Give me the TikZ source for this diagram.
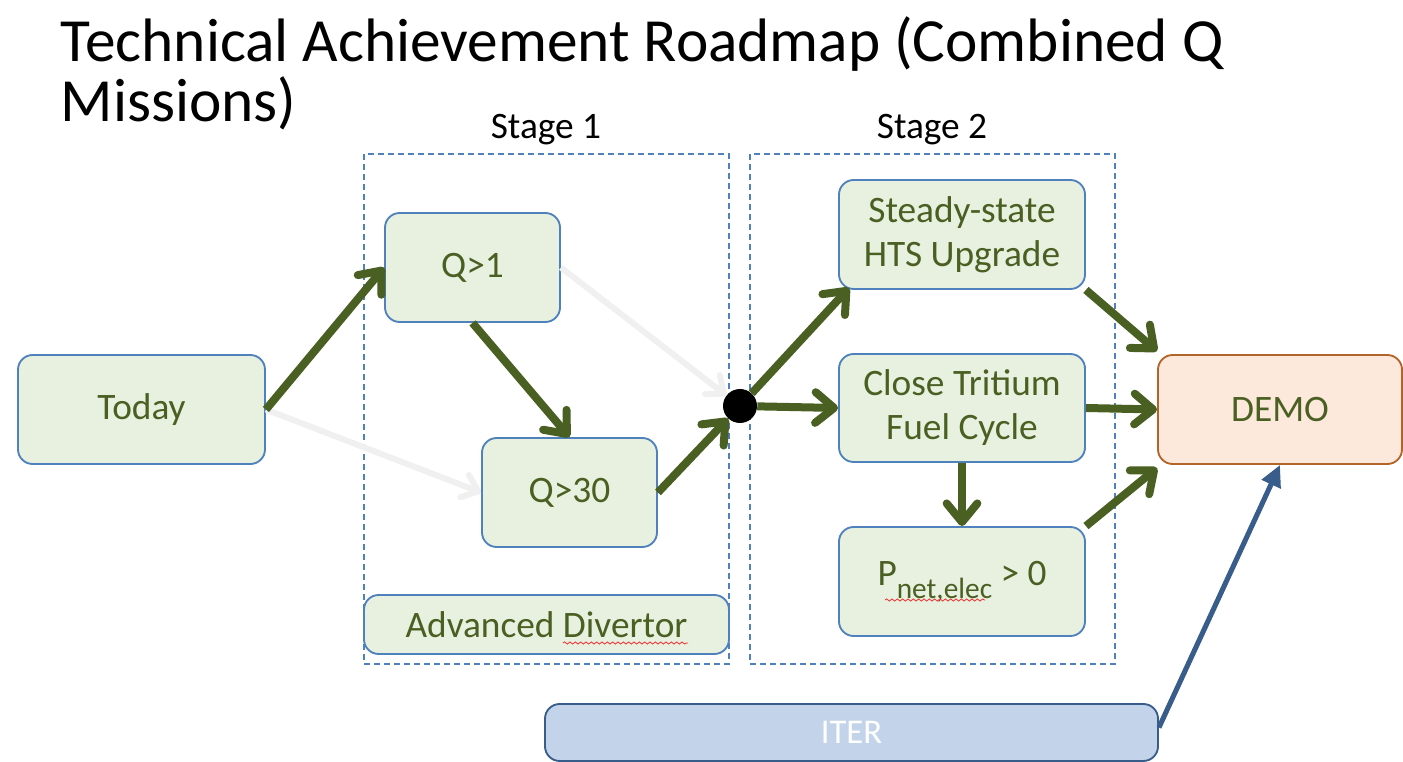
\documentclass[tikz,border=0pt]{standalone}
\usepackage{fontspec}
\setmainfont{Carlito}
\usetikzlibrary{arrows.meta,fit,decorations.pathmorphing}
\definecolor{boxfill}{HTML}{E8F1DF}
\definecolor{boxline}{HTML}{4F81BD}
\definecolor{leaf}{HTML}{4A5F22}
\definecolor{demofill}{HTML}{FDE9DC}
\definecolor{demoline}{HTML}{B2652A}
\definecolor{iterfill}{HTML}{C3D4EA}
\definecolor{iterline}{HTML}{385D8A}
\definecolor{ghost}{HTML}{F0F0F0}
\definecolor{spell}{HTML}{F03030}
\begin{document}
\begin{tikzpicture}[x=0.75pt,y=-0.75pt,
  span/.style args={#1x#2}{minimum width=#1*0.75pt, minimum height=#2*0.75pt},
  gbox/.style={draw=boxline, fill=boxfill, line width=1.4pt, rounded corners=11pt,
    inner sep=0pt, text=leaf, font=\fontsize{28}{33}\selectfont, align=center},
  demobox/.style={gbox, draw=demoline, fill=demofill},
  iterbox/.style={gbox, draw=iterline, fill=iterfill, text=white, font=\fontsize{26}{30}\selectfont},
  stagebox/.style={draw=boxline, line width=1.1pt, dash pattern=on 4.5pt off 3pt, inner sep=0pt},
  stagelabel/.style={font=\fontsize{28}{33}\selectfont, text=black},
  flow/.style={draw=leaf, line width=6pt,
    -{Straight Barb[length=14pt,width=23pt,line cap=round,line join=round]}},
  faint/.style={draw=ghost, line width=4.5pt,
    -{Straight Barb[length=11pt,width=18pt,line cap=round,line join=round]}},
  feed/.style={draw=iterline, line width=3.8pt, -{Triangle[length=16pt,width=15pt]}},
  squiggle/.style={draw=spell, line width=0.6pt, decorate,
    decoration={snake, amplitude=0.8pt, segment length=4pt}}
]
\useasboundingbox (0,0) rectangle (1403,762);

% title
\node[anchor=base west, font=\fontsize{46}{52}\selectfont] (title1) at (56,62)
  {Technical Achievement Roadmap (Combined Q};
\node[anchor=base west, font=\fontsize{46}{52}\selectfont] (title2) at (56,122)
  {Missions)};

% stage frames
\node[stagebox, fit={(364,154) (729,664)}] (stage1) {};
\node[stagebox, fit={(750,154) (1115,664)}] (stage2) {};
\node[stagelabel] (stage1lbl) at (546,130) {Stage 1};
\node[stagelabel] (stage2lbl) at (932,130) {Stage 2};

% milestones
\node[gbox, span=247x109] (today) at (141.5,409.5) {Today};
\node[gbox, span=175x109] (q1) at (472.5,267.5) {Q>1};
\node[gbox, span=175x109] (q30) at (569.5,492.5) {Q>30};
\node[gbox, span=365x59] (div) at (546.5,624.5) {Advanced Divertor};
\node[gbox, span=246x109] (hts) at (962,234.5) {Steady-state\\HTS Upgrade};
\node[gbox, span=246x108] (tri) at (962,408) {Close Tritium\\Fuel Cycle};
\node[gbox, span=246x109] (pnet) at (962,581.5)
  {P\raisebox{-0.34em}{\fontsize{22}{22}\selectfont net,elec} > 0};
\node[demobox, span=244x109] (demo) at (1280,409.5) {DEMO};
\node[iterbox, span=613x57] (iter) at (851.5,732.5) {ITER};

% junction
\node[circle, fill=black, inner sep=0pt, minimum size=25.5pt] (dot) at (740,406) {};

% spelling marks under the flagged words
\draw[squiggle] (563,643) -- (688,643);
\draw[squiggle] (885,600) -- (985,600);

% faint alternative paths
\draw[faint] (today.east) -- (q30.west);
\draw[faint] (q1.east) -- (dot);

% main paths
\draw[flow] (today.east) -- (q1.west);
\draw[flow] (q1.south) -- (q30.north);
\draw[flow] (q30.east) -- (dot);
\draw[flow] (dot) -- ([shift={(11,-2)}]hts.south west);
\draw[flow] (dot) -- (tri.west);
\draw[flow] (hts.south east) -- ([shift={(0,-3)}]demo.north west);
\draw[flow] (tri.east) -- (demo.west);
\draw[flow] (tri.south) -- (pnet.north);
\draw[flow] (pnet.north east) -- ([shift={(0,3)}]demo.south west);
\draw[feed] ([shift={(0,-5)}]iter.east) -- (demo.south);
\end{tikzpicture}
\end{document}
